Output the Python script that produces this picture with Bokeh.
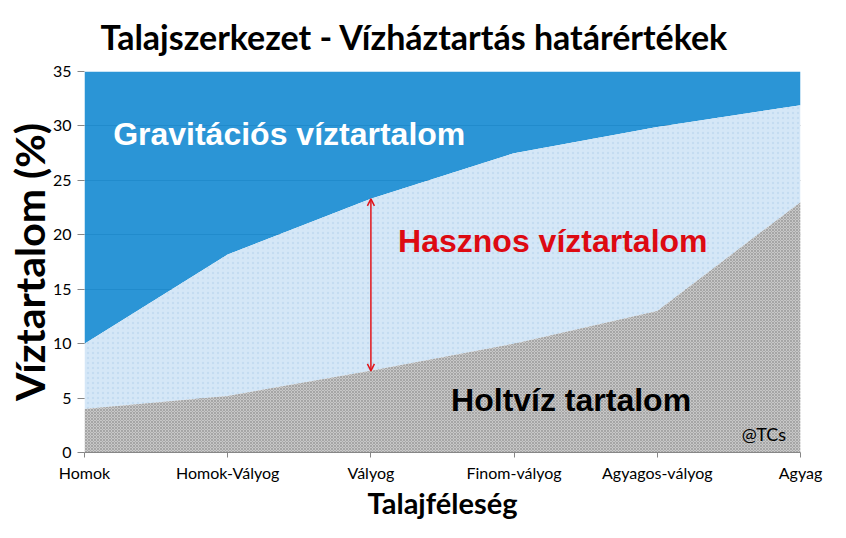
from bokeh.plotting import figure
from bokeh.models import FixedTicker, Arrow, OpenHead, Label, Range1d
from bokeh.embed import file_html
from bokeh.resources import INLINE

categories = ["Homok", "Homok-Vályog", "Vályog", "Finom-vályog", "Agyagos-vályog", "Agyag"]
holtviz = [4.0, 5.2, 7.5, 10.0, 13.0, 23.0]        # holtvíz (hervadáspont)
szabadfold = [10.0, 18.2, 23.3, 27.5, 29.9, 31.9]  # szántóföldi vízkapacitás
osszes = [35, 35, 35, 35, 35, 35]                  # teljes pórustérfogat
nulla = [0, 0, 0, 0, 0, 0]
y_ticks = [0, 5, 10, 15, 20, 25, 30, 35]
xs = list(range(len(categories)))

p = figure(width=830, height=522, output_backend="svg", toolbar_location=None,
           x_range=Range1d(0, len(categories) - 1), y_range=Range1d(0, 35),
           min_border_left=84, min_border_right=30, min_border_top=71, min_border_bottom=60)

p.title.text = "Talajszerkezet - Vízháztartás határértékek"
p.title.text_font = "Lato"
p.title.text_font_style = "bold"
p.title.text_font_size = "34px"
p.title.align = "left"
p.title.vertical_align = "top"
p.title.offset = 16
p.title.standoff = 26
p.title.text_color = "#000000"

p.outline_line_color = None
p.background_fill_color = "white"
p.border_fill_color = "white"

# grid below areas
p.xgrid.grid_line_color = None
p.ygrid.grid_line_color = "#7f7f7f"
p.ygrid.ticker = FixedTicker(ticks=y_ticks)

# areas
p.varea(x=xs, y1=szabadfold, y2=osszes, fill_color="#198cd2", fill_alpha=0.92)
p.varea(x=xs, y1=holtviz, y2=szabadfold, fill_color="#d5e7f7",
        hatch_pattern="dot", hatch_color="#c4dcf1", hatch_scale=5, hatch_weight=1)
p.varea(x=xs, y1=nulla, y2=holtviz, fill_color="#c8c8c8",
        hatch_pattern="diagonal_cross", hatch_color="#8e8e8e", hatch_scale=3, hatch_weight=0.6)

# axes
p.xaxis.ticker = FixedTicker(ticks=xs)
p.xaxis.major_label_overrides = {i: c for i, c in enumerate(categories)}
p.xaxis.axis_line_color = "#868686"
p.xaxis.major_tick_line_color = "#868686"
p.xaxis.major_tick_out = 5
p.xaxis.major_tick_in = 0
p.xaxis.minor_tick_line_color = None
p.xaxis.major_label_text_font = "Lato"
p.xaxis.major_label_text_font_size = "16px"
p.xaxis.major_label_text_color = "#000000"
p.xaxis.major_label_standoff = 5
p.xaxis.axis_label = "Talajféleség"
p.xaxis.axis_label_text_font = "Lato"
p.xaxis.axis_label_text_font_style = "bold"
p.xaxis.axis_label_text_font_size = "29px"
p.xaxis.axis_label_text_color = "#000000"
p.xaxis.axis_label_standoff = 0

p.yaxis.ticker = FixedTicker(ticks=y_ticks)
p.yaxis.axis_line_color = None
p.yaxis.major_tick_line_color = "#868686"
p.yaxis.major_tick_out = 7
p.yaxis.major_tick_in = 0
p.yaxis.minor_tick_line_color = None
p.yaxis.major_label_text_font = "Lato"
p.yaxis.major_label_text_font_size = "16px"
p.yaxis.major_label_text_color = "#000000"
p.yaxis.major_label_standoff = 6
p.yaxis.axis_label = "Víztartalom (%)"
p.yaxis.axis_label_text_font = "Lato"
p.yaxis.axis_label_text_font_style = "bold"
p.yaxis.axis_label_text_font_size = "41px"
p.yaxis.axis_label_text_color = "#000000"
p.yaxis.axis_label_standoff = -4

# arrow (Vályog)
p.add_layout(Arrow(x_start=xs[2], y_start=holtviz[2], x_end=xs[2], y_end=szabadfold[2],
                   line_color="#e0141a", line_width=1.5,
                   start=OpenHead(size=7, line_color="#e0141a", line_width=1.5),
                   end=OpenHead(size=7, line_color="#e0141a", line_width=1.5)))

# labels
p.add_layout(Label(x=0.2, y=29.3, text="Gravitációs víztartalom", text_color="white",
                   text_font="Liberation Sans", text_font_style="bold", text_font_size="32px",
                   text_baseline="middle"))
p.add_layout(Label(x=2.19, y=19.4, text="Hasznos víztartalom", text_color="#dd0a12",
                   text_font="Liberation Sans", text_font_style="bold", text_font_size="32px",
                   text_baseline="middle"))
p.add_layout(Label(x=2.56, y=4.85, text="Holtvíz tartalom", text_color="#000000",
                   text_font="Liberation Sans", text_font_style="bold", text_font_size="32px",
                   text_baseline="middle"))
p.add_layout(Label(x=4.59, y=1.7, text="@TCs", text_color="#000000",
                   text_font="Lato", text_font_size="18px", text_baseline="middle"))

open("out.html", "w").write(file_html(p, INLINE))
